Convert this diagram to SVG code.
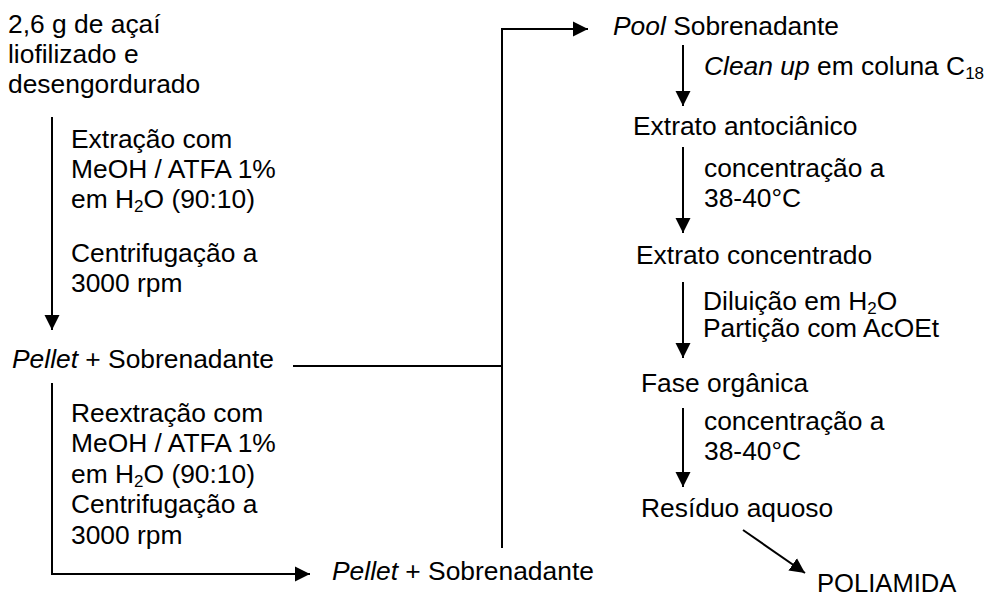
<svg xmlns="http://www.w3.org/2000/svg" width="988" height="594" viewBox="0 0 988 594">
<defs>
<style>
text{font-family:"Liberation Sans",Arial,sans-serif;font-size:26.4px;fill:#000}
.i{font-style:italic}
.s{font-size:17px}
.p{font-size:25.6px}
.c{fill:none;stroke:#000;stroke-width:2}
</style>
<marker id="ah" markerUnits="userSpaceOnUse" markerWidth="16" markerHeight="16" viewBox="0 0 16 16" refX="15" refY="8" orient="auto">
<path d="M0,0.5 L15,8 L0,15.5 Z" fill="#000"/>
</marker>
</defs>
<rect width="988" height="594" fill="#fff"/>
<g id="connectors">
<line class="c" x1="52" y1="117" x2="52" y2="330" marker-end="url(#ah)"/>
<line class="c" x1="293" y1="366" x2="502" y2="366"/>
<line class="c" x1="502" y1="548" x2="502" y2="29"/>
<line class="c" x1="501" y1="29" x2="588" y2="29" marker-end="url(#ah)"/>
<path class="c" d="M52,383 V574 H310" marker-end="url(#ah)"/>
<line class="c" x1="683" y1="45" x2="683" y2="106" marker-end="url(#ah)"/>
<line class="c" x1="683" y1="147" x2="683" y2="233" marker-end="url(#ah)"/>
<line class="c" x1="683" y1="282" x2="683" y2="358" marker-end="url(#ah)"/>
<line class="c" x1="683" y1="408" x2="683" y2="487" marker-end="url(#ah)"/>
<line class="c" x1="743" y1="530" x2="805" y2="573" marker-end="url(#ah)"/>
</g>
<g id="n-acai">
<text x="8" y="33">2,6 g de açaí</text>
<text x="8" y="63">liofilizado e</text>
<text x="8" y="93">desengordurado</text>
</g>
<g id="l-extracao">
<text x="71" y="148">Extração com</text>
<text x="71" y="178">MeOH / ATFA 1%</text>
<text x="71" y="208">em H<tspan class="s" dy="4">2</tspan><tspan dy="-4">O (90:10)</tspan></text>
<text x="71" y="262">Centrifugação a</text>
<text x="71" y="292">3000 rpm</text>
</g>
<g id="n-pellet1">
<text x="12" y="368"><tspan class="i">Pellet</tspan> + Sobrenadante</text>
</g>
<g id="l-reextracao">
<text x="71" y="422">Reextração com</text>
<text x="71" y="452">MeOH / ATFA 1%</text>
<text x="71" y="483">em H<tspan class="s" dy="4">2</tspan><tspan dy="-4">O (90:10)</tspan></text>
<text x="71" y="513">Centrifugação a</text>
<text x="71" y="544">3000 rpm</text>
</g>
<g id="n-pellet2">
<text x="332" y="580"><tspan class="i">Pellet</tspan> + Sobrenadante</text>
</g>
<g id="n-pool">
<text x="613" y="35"><tspan class="i">Pool</tspan> Sobrenadante</text>
</g>
<g id="l-cleanup">
<text x="704" y="75"><tspan class="i">Clean up</tspan> em coluna C<tspan class="s" dy="4">18</tspan></text>
</g>
<g id="n-extrato-antocianico">
<text x="633" y="135">Extrato antociânico</text>
</g>
<g id="l-conc1">
<text x="704" y="177">concentração a</text>
<text x="704" y="207">38-40°C</text>
</g>
<g id="n-extrato-concentrado">
<text x="636" y="264">Extrato concentrado</text>
</g>
<g id="l-diluicao">
<text x="703" y="310">Diluição em H<tspan class="s" dy="4">2</tspan><tspan dy="-4">O</tspan></text>
<text x="703" y="337">Partição com AcOEt</text>
</g>
<g id="n-fase">
<text x="641" y="392">Fase orgânica</text>
</g>
<g id="l-conc2">
<text x="704" y="430">concentração a</text>
<text x="704" y="460">38-40°C</text>
</g>
<g id="n-residuo">
<text x="641" y="517">Resíduo aquoso</text>
</g>
<g id="n-poliamida">
<text class="p" x="817" y="592">POLIAMIDA</text>
</g>
</svg>
